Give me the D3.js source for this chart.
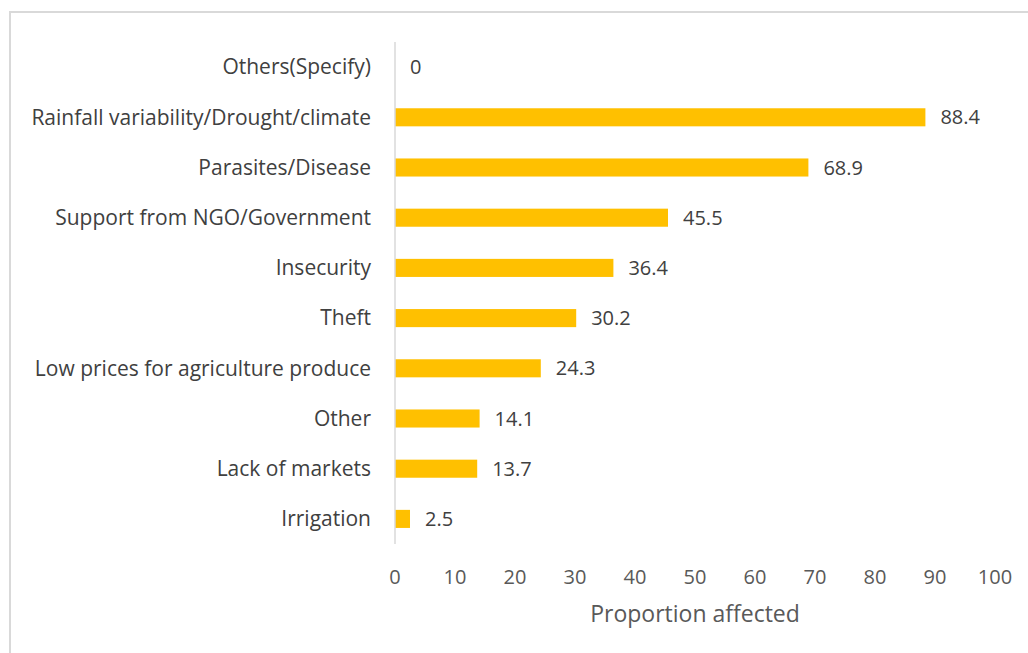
<!DOCTYPE html>
<html>
<head>
<meta charset="utf-8">
<script src="https://d3js.org/d3.v7.min.js"></script>
<style>
  body { margin: 0; background: #fff; }
  text { font-family: "Open Sans", Lato, sans-serif; }
</style>
</head>
<body>
<script>
  // chart data, top to bottom
  let categories = ["Others(Specify)", "Rainfall variability/Drought/climate", "Parasites/Disease",
    "Support from NGO/Government", "Insecurity", "Theft", "Low prices for agriculture produce",
    "Other", "Lack of markets", "Irrigation"];
  let values = [0, 88.4, 68.9, 45.5, 36.4, 30.2, 24.3, 14.1, 13.7, 2.5];
  let xTicks = [0, 10, 20, 30, 40, 50, 60, 70, 80, 90, 100];
  let xTitle = "Proportion affected";

  let barColor = "#ffc000";

  var svg = d3.select("body")
    .append("svg")
    .attr("width", 1028)
    .attr("height", 653);

  // chart border
  svg.append("rect")
    .attr("x", 10)
    .attr("y", 12)
    .attr("width", 1030)
    .attr("height", 660)
    .attr("fill", "none")
    .attr("stroke", "#d9d9d9")
    .attr("stroke-width", 2);

  let xScale = d3.scaleLinear().domain([0, 100]).range([395, 995]);
  let yScale = d3.scaleBand().domain(categories).range([42, 544]).paddingInner(0.64).paddingOuter(0.32);

  // bars
  svg.selectAll(".bar")
    .data(values)
    .enter()
  .append("rect")
    .attr("class", "bar")
    .attr("x", xScale(0))
    .attr("y", (d, i) => yScale(categories[i]))
    .attr("width", d => xScale(d) - xScale(0))
    .attr("height", yScale.bandwidth())
    .attr("fill", barColor);

  // vertical axis line
  svg.append("line")
    .attr("x1", xScale(0))
    .attr("x2", xScale(0))
    .attr("y1", 42)
    .attr("y2", 544)
    .attr("stroke", "#d9d9d9")
    .attr("stroke-width", 1.5);

  // category labels
  svg.selectAll(".cat")
    .data(categories)
    .enter()
  .append("text")
    .attr("class", "cat")
    .attr("x", 371)
    .attr("y", d => yScale(d) + yScale.bandwidth() / 2)
    .attr("dy", "0.35em")
    .attr("text-anchor", "end")
    .attr("font-size", 21)
    .attr("fill", "#404040")
    .text(d => d);

  // value labels
  svg.selectAll(".val")
    .data(values)
    .enter()
  .append("text")
    .attr("class", "val")
    .attr("x", d => xScale(d) + 15)
    .attr("y", (d, i) => yScale(categories[i]) + yScale.bandwidth() / 2)
    .attr("dy", "0.35em")
    .attr("font-size", 20)
    .attr("fill", "#404040")
    .text(d => d);

  // x tick labels
  svg.selectAll(".tick")
    .data(xTicks)
    .enter()
  .append("text")
    .attr("class", "tick")
    .attr("x", d => xScale(d))
    .attr("y", 577)
    .attr("dy", "0.35em")
    .attr("text-anchor", "middle")
    .attr("font-size", 20)
    .attr("fill", "#595959")
    .text(d => d);

  // axis title
  svg.append("text")
    .attr("x", (xScale(0) + xScale(100)) / 2)
    .attr("y", 614)
    .attr("dy", "0.35em")
    .attr("text-anchor", "middle")
    .attr("font-size", 23)
    .attr("fill", "#595959")
    .text(xTitle);
</script>
</body>
</html>
